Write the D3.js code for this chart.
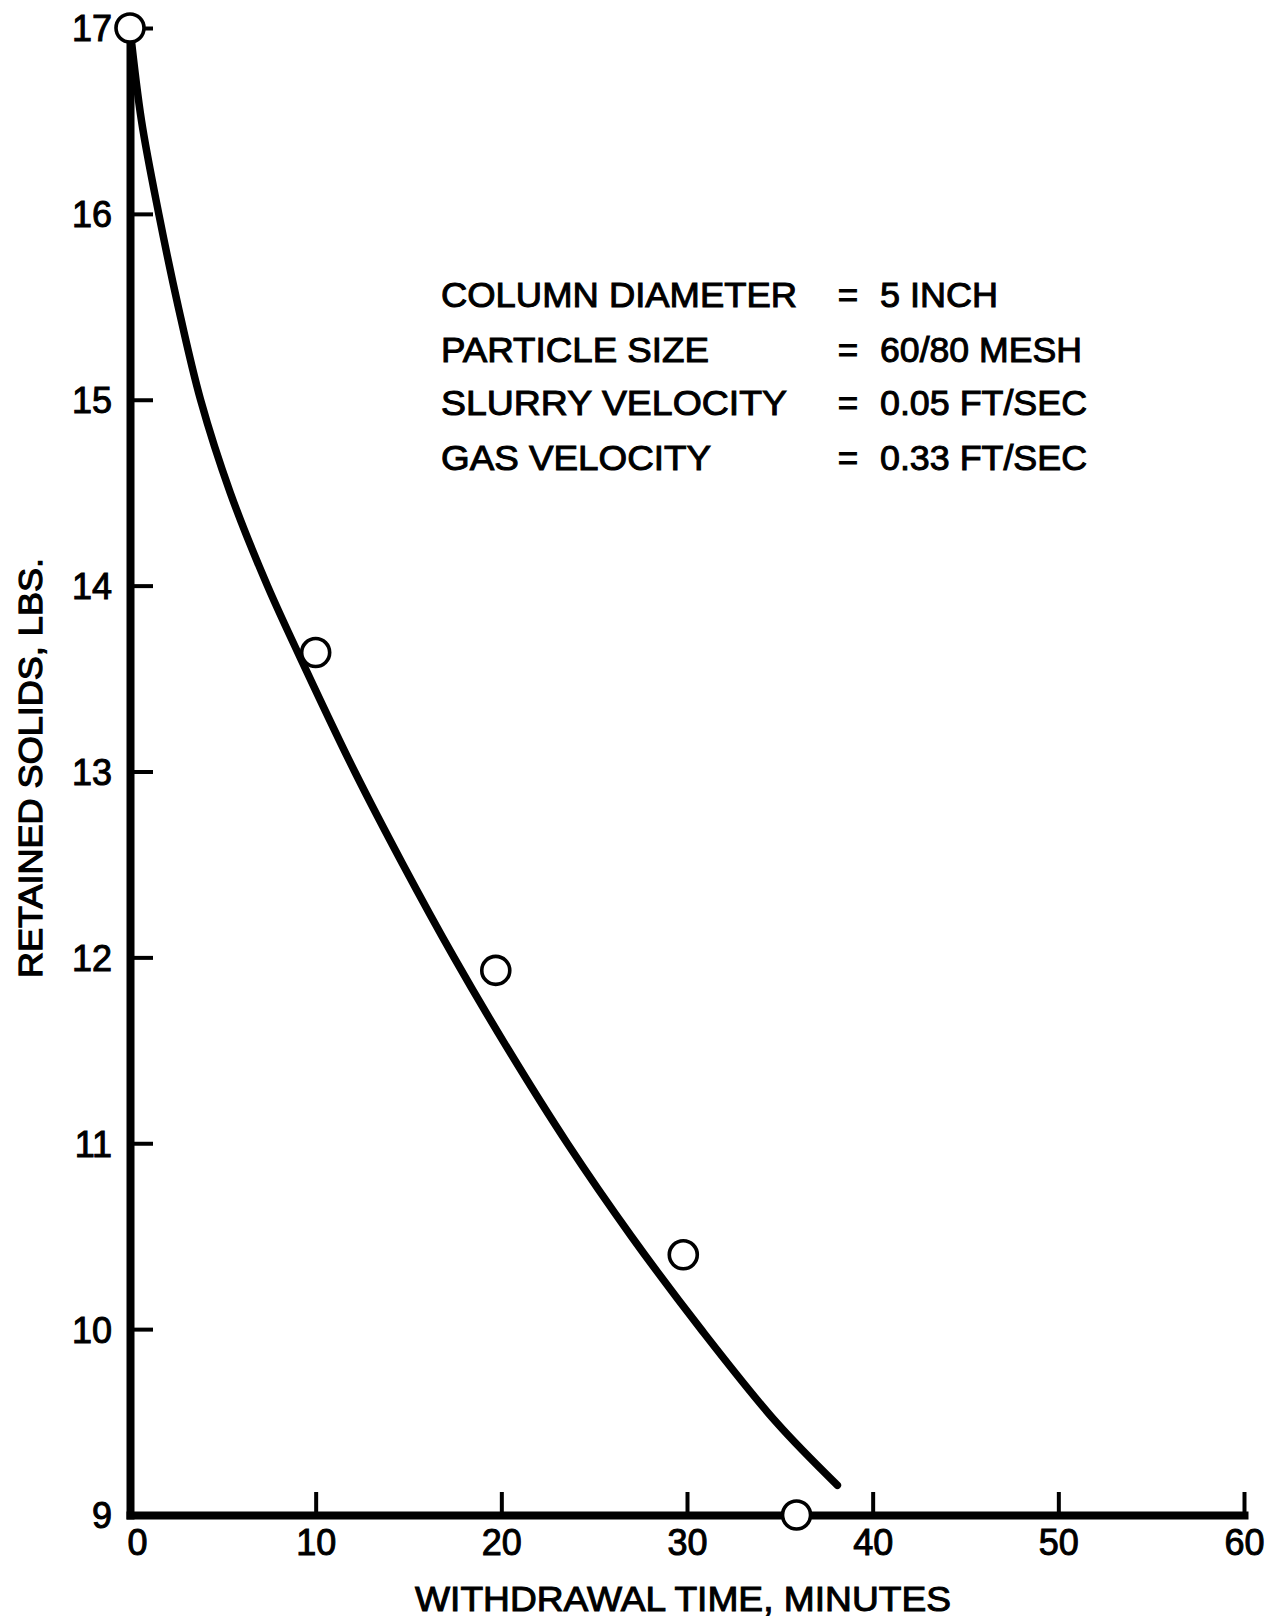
<!DOCTYPE html>
<html>
<head>
<meta charset="utf-8">
<script src="https://cdn.jsdelivr.net/npm/d3@7"></script>
<style>
  html, body { margin: 0; padding: 0; background: #fff; }
  svg { display: block; }
  text { font-family: "Liberation Sans", Arial, Helvetica, sans-serif; fill: #000; }
</style>
</head>
<body>
<svg id="chart" width="1273" height="1617"></svg>
<script>
// Measured withdrawal runs: time (min) vs. solids retained in the column (lb)
const timeMin   = [0, 10, 19.7, 29.8, 35.9];
const solidsLb  = [17.0, 13.64, 11.93, 10.40, 9.0];

// Hand-faired curve through the runs
const fitTime   = [0, 0.62, 1.55, 2.6, 3.8, 5.4, 7.4, 9.7, 12.1, 14.7, 17.45, 20.4, 23.55, 27.0, 30.75, 34.8, 38.1];
const fitSolids = [17.0, 16.5, 16.0, 15.5, 15.0, 14.5, 14.0, 13.5, 13.0, 12.5, 12.0, 11.5, 11.0, 10.5, 10.0, 9.5, 9.16];

// Axis ticks
const xTicks = [0, 10, 20, 30, 40, 50, 60];
const yTicks = [9, 10, 11, 12, 13, 14, 15, 16, 17];

// Test conditions
const condLabels = ["COLUMN DIAMETER", "PARTICLE SIZE", "SLURRY VELOCITY", "GAS VELOCITY"];
const condValues = ["5 INCH", "60/80 MESH", "0.05 FT/SEC", "0.33 FT/SEC"];

const xTitle = "WITHDRAWAL TIME, MINUTES";
const yTitle = "RETAINED SOLIDS, LBS.";

const svg = d3.select("#chart");

const x = d3.scaleLinear().domain([0, 60]).range([130, 1244]);
const y = d3.scaleLinear().domain([9, 17]).range([1515, 28]);

const ink = "#000";
const FONT = 36;

// ---- axes ----
const xAxis = d3.axisBottom(x)
  .tickValues(xTicks)
  .tickSizeInner(-23)
  .tickSizeOuter(0)
  .tickPadding(14)
  .tickFormat(d3.format("d"));

const yAxis = d3.axisLeft(y)
  .tickValues(yTicks)
  .tickSizeInner(-23)
  .tickSizeOuter(0)
  .tickPadding(18)
  .tickFormat(d3.format("d"));

const gx = svg.append("g")
  .attr("transform", `translate(0,${y(9)})`)
  .call(xAxis);

const gy = svg.append("g")
  .attr("transform", `translate(${x(0)},0)`)
  .call(yAxis);

[gx, gy].forEach(g => {
  g.select(".domain")
    .attr("stroke", ink)
    .attr("stroke-width", 8)
    .attr("stroke-linecap", "square");
  g.selectAll(".tick line")
    .attr("stroke", ink)
    .attr("stroke-width", 4);
  g.selectAll(".tick text")
    .attr("font-size", FONT)
    .attr("font-family", "'Liberation Sans', Arial, sans-serif")
    .attr("fill", ink)
    .attr("stroke", ink)
    .attr("stroke-width", 1);
});

gy.selectAll(".tick text").attr("dy", "0.36em");
// the origin label sits just right of the corner
gx.selectAll(".tick text").filter(d => d === 0).attr("dx", 7);

// ---- fitted curve ----
const pts = fitTime.map((t, i) => [t, fitSolids[i]]);
const line = d3.line()
  .x(d => x(d[0]))
  .y(d => y(d[1]))
  .curve(d3.curveCatmullRom.alpha(0.5));

svg.append("path")
  .datum(pts)
  .attr("d", line)
  .attr("fill", "none")
  .attr("stroke", ink)
  .attr("stroke-width", 7.5)
  .attr("stroke-linecap", "round")
  .attr("stroke-linejoin", "round");

// ---- data points ----
svg.append("g")
  .selectAll("circle")
  .data(timeMin.map((t, i) => [t, solidsLb[i]]))
  .join("circle")
  .attr("cx", d => x(d[0]))
  .attr("cy", d => y(d[1]))
  .attr("r", 14)
  .attr("fill", "#fff")
  .attr("stroke", ink)
  .attr("stroke-width", 3.6);

// ---- test conditions block ----
const labelW = [356, 268, 346, 270];
const valueW = [118, 202, 207, 207];
const condBase = [307, 362, 415, 470];
const block = svg.append("g")
  .attr("font-size", 35)
  .attr("stroke", ink)
  .attr("stroke-width", 1);

condLabels.forEach((s, i) => {
  block.append("text")
    .attr("x", 441)
    .attr("y", condBase[i])
    .attr("textLength", labelW[i])
    .attr("lengthAdjust", "spacingAndGlyphs")
    .text(s);
  block.append("text")
    .attr("x", 848)
    .attr("y", condBase[i])
    .attr("text-anchor", "middle")
    .text("=");
  block.append("text")
    .attr("x", 880)
    .attr("y", condBase[i])
    .attr("textLength", valueW[i])
    .attr("lengthAdjust", "spacingAndGlyphs")
    .text(condValues[i]);
});

// ---- axis titles ----
svg.append("text")
  .attr("x", 415)
  .attr("y", 1611)
  .attr("font-size", 35)
  .attr("stroke", ink)
  .attr("stroke-width", 1)
  .attr("textLength", 536)
  .attr("lengthAdjust", "spacingAndGlyphs")
  .text(xTitle);

svg.append("text")
  .attr("transform", "translate(42,978) rotate(-90)")
  .attr("font-size", 34)
  .attr("stroke", ink)
  .attr("stroke-width", 1.2)
  .attr("textLength", 420)
  .attr("lengthAdjust", "spacingAndGlyphs")
  .text(yTitle);
</script>
</body>
</html>
